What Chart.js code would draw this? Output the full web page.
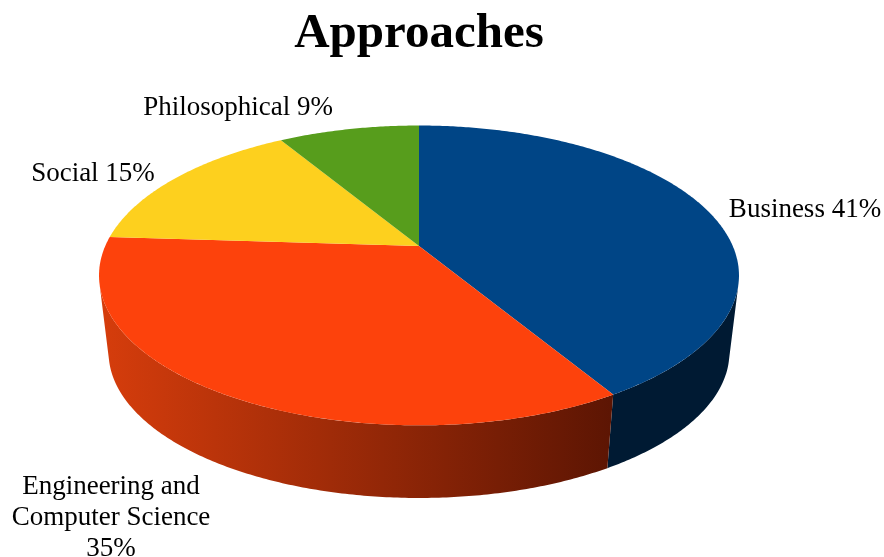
<!DOCTYPE html>
<html>
<head>
<meta charset="utf-8">
<title>Approaches</title>
<script src="https://cdn.jsdelivr.net/npm/chart.js@4"></script>
<style>
html, body { margin: 0; padding: 0; background: #fff; }
#wrap { width: 884px; height: 557px; }
</style>
</head>
<body>
<div id="wrap"><canvas id="chart"></canvas></div>
<script>
const categories = ['Business', 'Engineering and Computer Science', 'Social', 'Philosophical'];
const values = [41.4, 34.6, 15.4, 8.6];
const percentLabels = ['41%', '35%', '15%', '9%'];
const colors = ['#004586', '#fd420c', '#fdd01e', '#579d1c'];
const wallLeft = ['#001a33', '#d63d0c', '#7a6400', '#2a4c0d'];
const wallRight = ['#001a33', '#5c1503', '#7a6400', '#2a4c0d'];

// label lines and where they sit, relative to the pie centre
const labelLines = [
    ['Business ' + percentLabels[0]],
    ['Engineering and', 'Computer Science', percentLabels[1]],
    ['Social ' + percentLabels[2]],
    ['Philosophical ' + percentLabels[3]]
];
const labelOffsets = [[386, -36], [-308, 241], [-326, -72], [-181, -138]];

const PERSP = -0.197;     // front of the disc is closer to the viewer
const STRETCH = 2.177;    // disc width / height
const BASE_SCALE = 0.97;  // lower disc looks a bit smaller
const BASE_DROP = 78;     // lower disc offset in px
const WALL_EDGE = 0.25;   // angle where the wall silhouette starts

function project(arc, angle, base) {
    const u = Math.cos(angle), v = Math.sin(angle);
    const d = 1 + PERSP * v;
    const s = base ? BASE_SCALE : 1;
    return {
        x: arc.x + s * arc.outerRadius * STRETCH * u / d,
        y: arc.y + s * arc.outerRadius * v / d + (base ? BASE_DROP : 0)
    };
}

function tracePoints(ctx, arc, a0, a1, base) {
    const steps = Math.max(2, Math.ceil(Math.abs(a1 - a0) / 0.01));
    for (let i = 0; i <= steps; i++) {
        const p = project(arc, a0 + (a1 - a0) * i / steps, base);
        ctx.lineTo(p.x, p.y);
    }
}

const pie3d = {
    id: 'pie3d',
    beforeDatasetDraw(chart) {
        const ctx = chart.ctx;
        const arcs = chart.getDatasetMeta(0).data;
        ctx.save();

        // side walls, only the part of each slice facing the viewer
        const second = arcs[1];
        const gradLeft = project(second, Math.PI - WALL_EDGE).x;
        const gradRight = project(second, second.startAngle).x;
        arcs.forEach((arc, i) => {
            const a0 = Math.max(arc.startAngle, WALL_EDGE);
            const a1 = Math.min(arc.endAngle, Math.PI - WALL_EDGE);
            if (a1 <= a0) return;
            const g = ctx.createLinearGradient(gradLeft, 0, gradRight, 0);
            g.addColorStop(0, wallLeft[i]);
            g.addColorStop(1, wallRight[i]);
            ctx.beginPath();
            tracePoints(ctx, arc, a0, a1, false);
            tracePoints(ctx, arc, a1, a0, true);
            ctx.closePath();
            ctx.fillStyle = g;
            ctx.fill();
        });

        // top face
        arcs.forEach((arc, i) => {
            ctx.beginPath();
            ctx.moveTo(arc.x, arc.y);
            tracePoints(ctx, arc, arc.startAngle, arc.endAngle, false);
            ctx.closePath();
            ctx.fillStyle = colors[i];
            ctx.fill();
        });

        // labels
        ctx.fillStyle = '#000';
        ctx.font = '27px "Liberation Serif"';
        ctx.textAlign = 'center';
        ctx.textBaseline = 'middle';
        arcs.forEach((arc, i) => {
            labelLines[i].forEach((line, n) => {
                ctx.fillText(line, arc.x + labelOffsets[i][0], arc.y + labelOffsets[i][1] + n * 31);
            });
        });
        ctx.restore();
        return false;
    }
};

new Chart(document.getElementById('chart'), {
    type: 'pie',
    plugins: [pie3d],
    data: {
        labels: categories,
        datasets: [{ data: values, backgroundColor: colors, borderWidth: 0 }]
    },
    options: {
        responsive: true,
        maintainAspectRatio: false,
        animation: false,
        events: [],
        layout: { padding: { top: 0, left: 0, right: 46, bottom: 167 } },
        plugins: {
            legend: { display: false },
            tooltip: { enabled: false },
            title: {
                display: true,
                text: 'Approaches',
                color: '#000',
                font: { family: '"Liberation Serif"', size: 49, weight: 'bold' },
                padding: { top: 5, bottom: 38 }
            }
        }
    }
});
</script>
</body>
</html>
